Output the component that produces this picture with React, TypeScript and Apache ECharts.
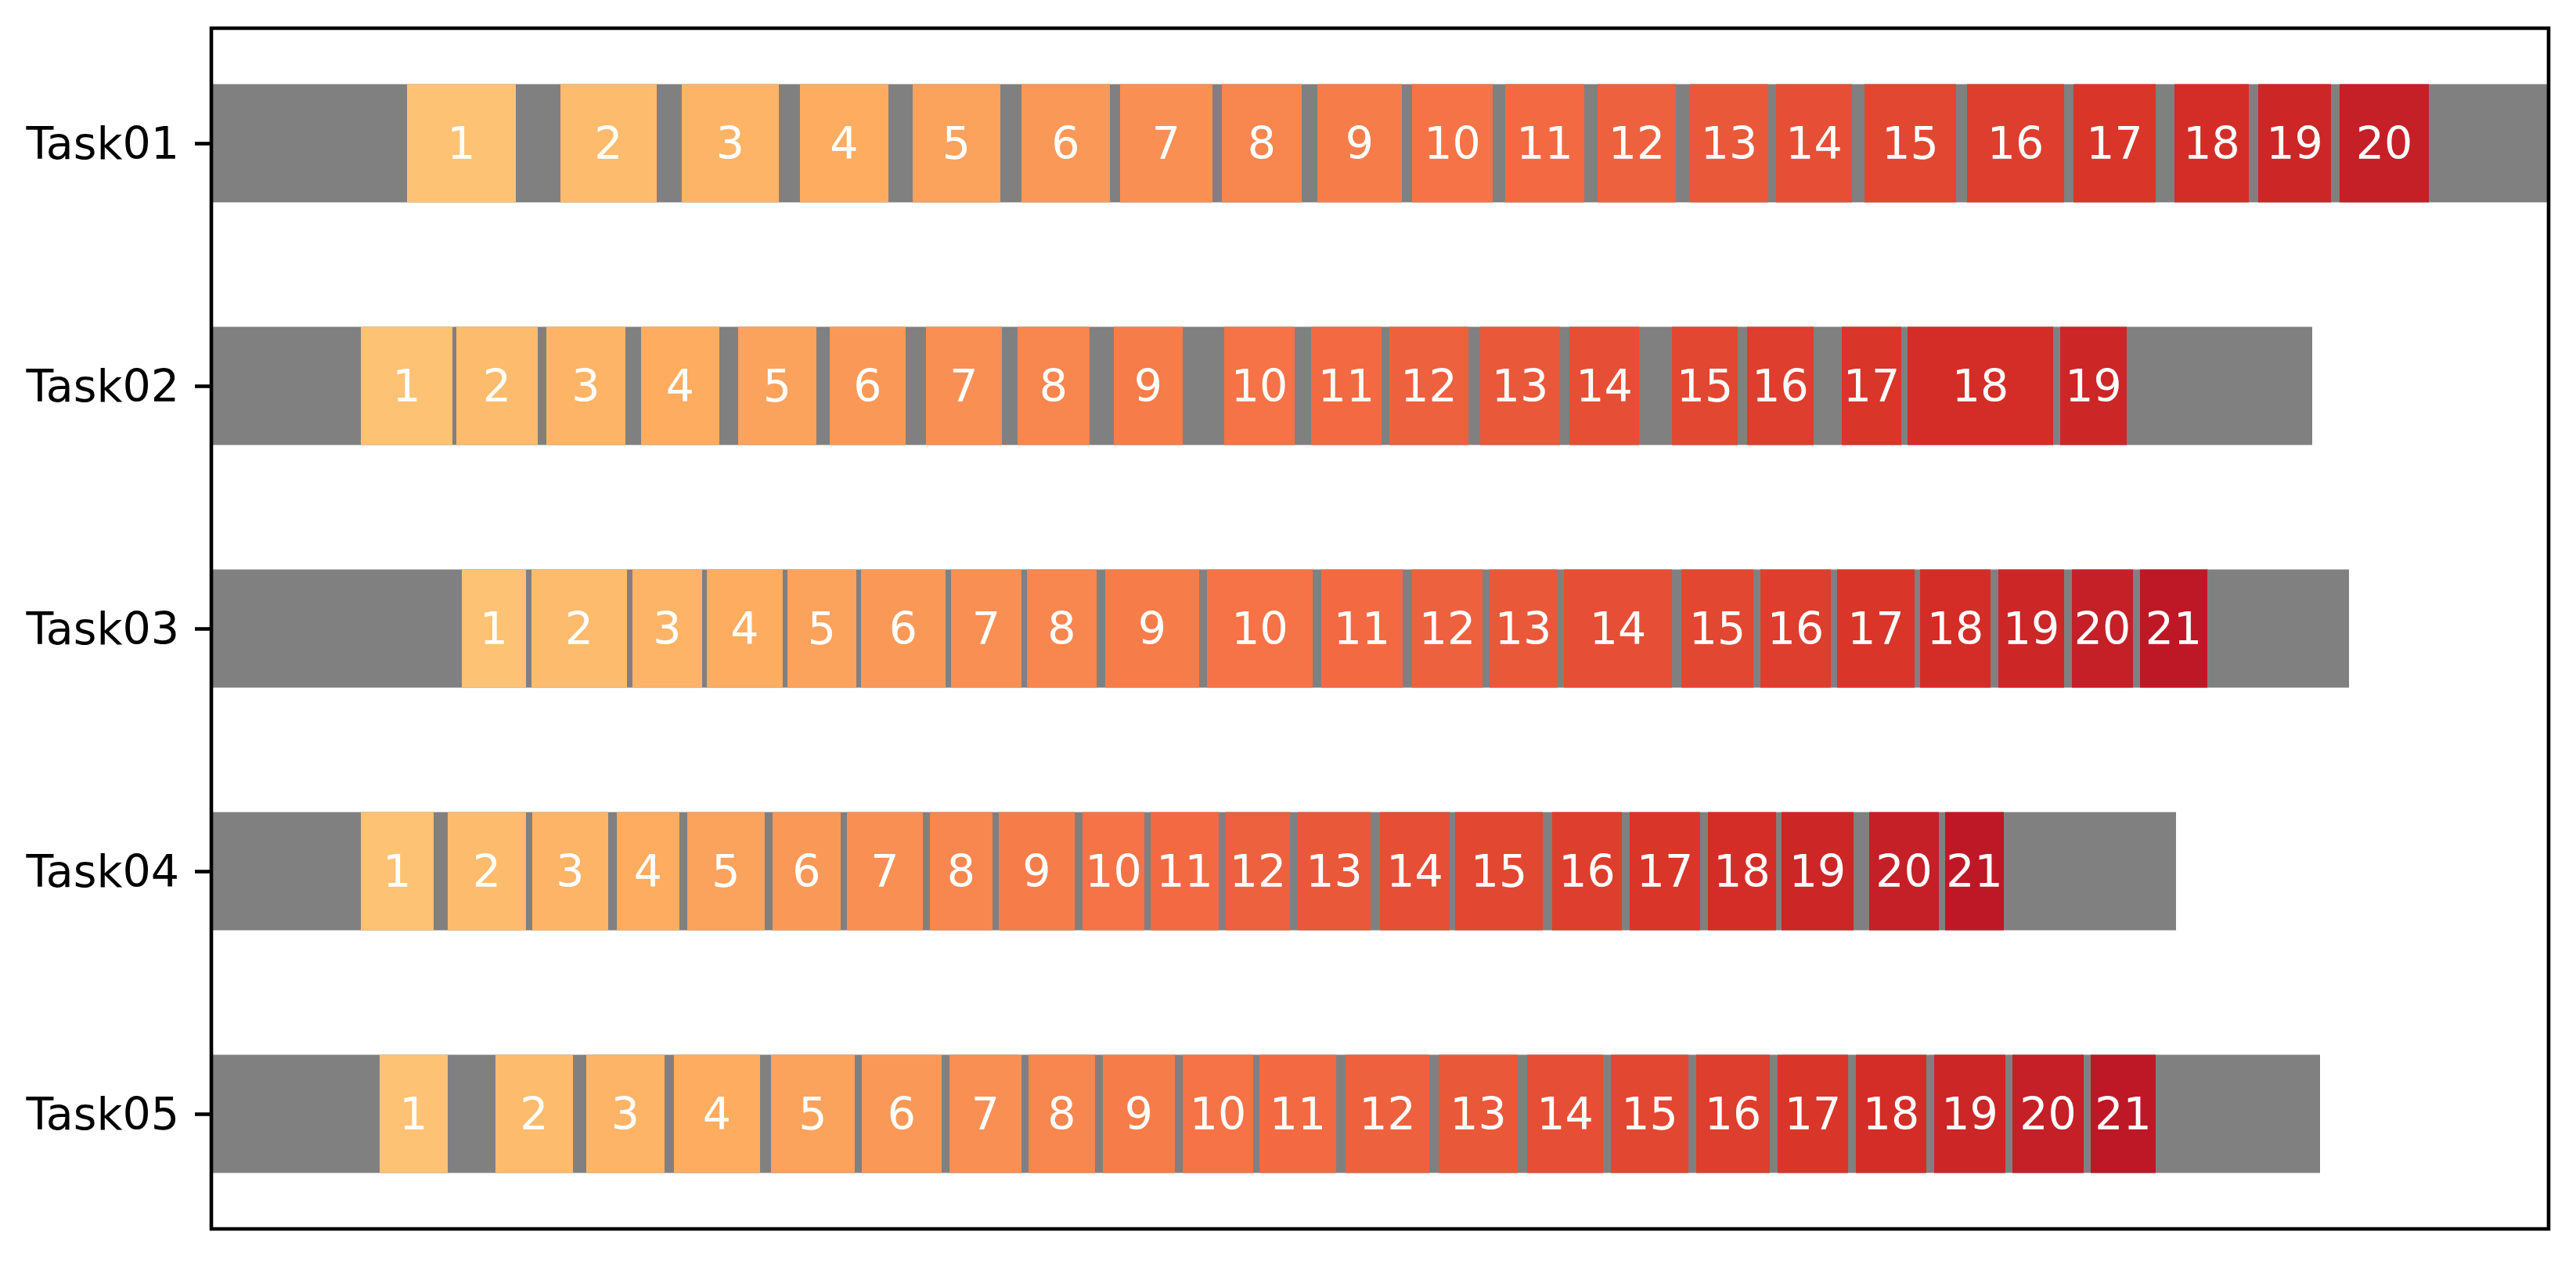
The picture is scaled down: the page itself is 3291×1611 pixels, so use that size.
import React, { useEffect, useRef } from "react";
import * as echarts from "echarts";

// Task names (top to bottom)
const tasks = ["Task01", "Task02", "Task03", "Task04", "Task05"];

// Total (gray) bar length for each task
const totals = [298.6, 268.4, 273.1, 251.0, 269.4];

// Operation segments per task: [start, end], numbered 1..n in order
const task01: number[][] = [
  [25.0, 38.9], [44.6, 56.9], [60.1, 72.5], [75.2, 86.5], [89.6, 100.8],
  [103.5, 114.8], [116.1, 127.9], [129.1, 139.3], [141.3, 152.1], [153.4, 163.7],
  [165.3, 175.4], [177.1, 187.1], [188.9, 198.9], [199.9, 209.6], [211.2, 222.9],
  [224.3, 236.7], [237.9, 248.4], [250.8, 260.3], [261.5, 270.8], [271.9, 283.3],
];
const task02: number[][] = [
  [19.1, 30.8], [31.3, 41.7], [42.8, 52.9], [54.9, 64.9], [67.3, 77.3],
  [79.0, 88.7], [91.3, 101.0], [103.0, 112.2], [115.3, 124.1], [129.4, 138.4],
  [140.5, 149.5], [150.5, 160.6], [162.1, 172.3], [173.5, 182.4], [186.6, 195.0],
  [196.2, 204.7], [208.3, 215.9], [216.7, 235.3], [236.2, 244.7],
];
const task03: number[][] = [
  [32.0, 40.2], [40.9, 53.1], [53.8, 62.7], [63.3, 73.0], [73.6, 82.4],
  [83.0, 93.8], [94.5, 103.5], [104.2, 113.1], [114.2, 126.2], [127.2, 140.7],
  [141.8, 152.2], [153.4, 162.4], [163.3, 171.9], [172.8, 186.6], [187.8, 197.0],
  [197.9, 206.9], [207.7, 217.6], [218.3, 227.3], [228.3, 236.7], [237.7, 245.5],
  [246.4, 255.0],
];
const task04: number[][] = [
  [19.1, 28.4], [30.2, 40.2], [41.0, 50.7], [51.8, 59.8], [60.8, 70.7],
  [71.7, 80.4], [81.2, 90.9], [91.8, 99.8], [100.6, 110.3], [111.3, 119.2],
  [120.0, 128.7], [129.6, 137.8], [138.8, 148.1], [149.3, 158.2], [158.9, 170.1],
  [171.3, 180.2], [181.2, 190.2], [191.2, 199.9], [200.6, 209.8], [211.8, 220.7],
  [221.5, 229.0],
];
const task05: number[][] = [
  [21.5, 30.2], [36.3, 46.2], [47.9, 57.9], [59.1, 70.1], [71.5, 82.2],
  [83.1, 93.3], [94.3, 103.5], [104.4, 112.9], [113.9, 123.1], [124.1, 133.1],
  [133.9, 143.7], [144.9, 155.6], [156.8, 166.9], [168.1, 177.8], [178.8, 188.7],
  [189.7, 199.1], [200.1, 209.1], [210.1, 219.1], [220.1, 229.2], [230.1, 239.2],
  [240.1, 248.4],
];
const taskSegments = [task01, task02, task03, task04, task05];

const xMax = 298.6;

// Color per operation number (1..21)
const palette = [
  "#FDC274", "#FDBB6D", "#FDB466", "#FDAC60", "#FBA25C", "#FA9957", "#F98F53",
  "#F7864F", "#F67D4A", "#F57346", "#F36A42", "#EE613E", "#EA583A", "#E64F35",
  "#E24731", "#DE3E2D", "#D93529", "#D42D27", "#CC2627", "#C51F27", "#BE1826",
];

const FONT = "DejaVu Sans";

export default function App() {
  const ref = useRef<HTMLDivElement>(null);

  useEffect(() => {
    if (!ref.current) return;
    const chart = echarts.init(ref.current, undefined, { renderer: "svg" });

    const grayData = totals.map((t, i) => ({ value: [i, 0, t] }));
    const segData: any[] = [];
    taskSegments.forEach((segs, i) => {
      segs.forEach((s, j) => {
        segData.push({ value: [i, s[0], s[1], j + 1] });
      });
    });

    const barFrac = 0.487;

    chart.setOption({
      animation: false,
      backgroundColor: "#ffffff",
      grid: { left: 270, right: 35, top: 28, height: 1550, containLabel: false },
      xAxis: {
        type: "value",
        min: 0,
        max: xMax,
        show: false,
      },
      yAxis: {
        type: "category",
        data: tasks,
        inverse: true,
        axisLine: { show: false },
        axisTick: {
          show: true,
          alignWithLabel: true,
          length: 21,
          lineStyle: { color: "#000", width: 4.6 },
        },
        axisLabel: {
          show: true,
          margin: 41,
          fontSize: 57,
          color: "#000",
          fontFamily: FONT,
        },
        splitLine: { show: false },
      },
      series: [
        {
          type: "custom",
          name: "total",
          data: grayData,
          encode: { x: [1, 2], y: 0 },
          renderItem: (params: any, api: any) => {
            const cat = api.value(0);
            const p0 = api.coord([api.value(1), cat]);
            const p1 = api.coord([api.value(2), cat]);
            const h = api.size([0, 1])[1] * barFrac;
            return {
              type: "rect",
              shape: { x: p0[0], y: p0[1] - h / 2, width: p1[0] - p0[0], height: h },
              style: { fill: "#808080" },
            };
          },
          z: 1,
        },
        {
          type: "custom",
          name: "ops",
          data: segData,
          encode: { x: [1, 2], y: 0 },
          renderItem: (params: any, api: any) => {
            const cat = api.value(0);
            const idx = api.value(3);
            const p0 = api.coord([api.value(1), cat]);
            const p1 = api.coord([api.value(2), cat]);
            const h = api.size([0, 1])[1] * barFrac;
            return {
              type: "group",
              children: [
                {
                  type: "rect",
                  shape: { x: p0[0], y: p0[1] - h / 2, width: p1[0] - p0[0], height: h },
                  style: { fill: palette[(idx - 1) % palette.length] },
                },
                {
                  type: "text",
                  style: {
                    text: String(idx),
                    x: (p0[0] + p1[0]) / 2,
                    y: p0[1],
                    align: "center",
                    verticalAlign: "middle",
                    fill: "#ffffff",
                    fontSize: 57,
                    fontFamily: FONT,
                  },
                },
              ],
            };
          },
          z: 2,
        },
      ],
      graphic: [
        {
          type: "rect",
          z: 100,
          shape: { x: 270, y: 36, width: 2986, height: 1534 },
          style: { fill: "none", stroke: "#000", lineWidth: 4.6 },
          silent: true,
        },
      ],
    });

    return () => chart.dispose();
  }, []);

  return (
    <div
      ref={ref}
      style={{ position: "absolute", left: 0, top: 0, width: 3291, height: 1611 }}
    />
  );
}
